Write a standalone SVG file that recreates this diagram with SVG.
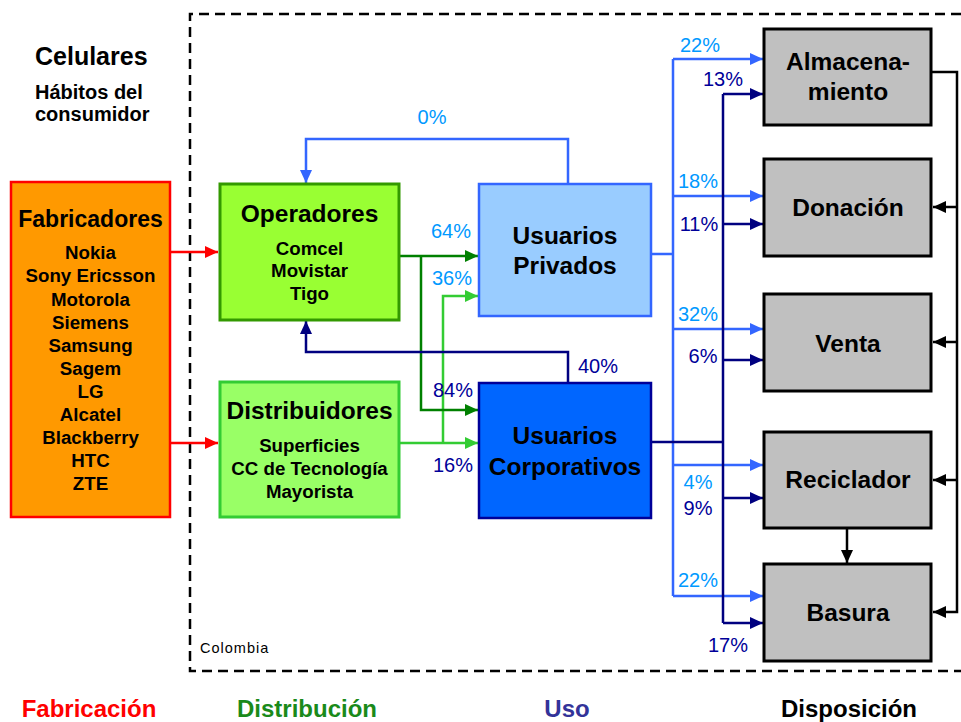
<svg xmlns="http://www.w3.org/2000/svg" width="961" height="722" viewBox="0 0 961 722">
<style>
text{font-family:"Liberation Sans",Arial,sans-serif;font-weight:bold;text-anchor:middle;fill:#000}
.t24{font-size:24.5px}
.t19{font-size:18.7px}
.pct{font-size:20px;font-weight:normal}
.lb{fill:#0099FF}
.nv{fill:#000099}
.ln{fill:none;stroke-width:2.5}
</style>
<defs>
<marker id="aR" viewBox="0 0 13 12" refX="13" refY="6" markerWidth="13" markerHeight="12" markerUnits="userSpaceOnUse" orient="auto"><path d="M0,0L13,6L0,12z" fill="#FF0000"/></marker>
<marker id="aDG" viewBox="0 0 13 12" refX="13" refY="6" markerWidth="13" markerHeight="12" markerUnits="userSpaceOnUse" orient="auto"><path d="M0,0L13,6L0,12z" fill="#008000"/></marker>
<marker id="aLG" viewBox="0 0 13 12" refX="13" refY="6" markerWidth="13" markerHeight="12" markerUnits="userSpaceOnUse" orient="auto"><path d="M0,0L13,6L0,12z" fill="#33CC33"/></marker>
<marker id="aB" viewBox="0 0 13 12" refX="13" refY="6" markerWidth="13" markerHeight="12" markerUnits="userSpaceOnUse" orient="auto"><path d="M0,0L13,6L0,12z" fill="#3366FF"/></marker>
<marker id="aN" viewBox="0 0 13 12" refX="13" refY="6" markerWidth="13" markerHeight="12" markerUnits="userSpaceOnUse" orient="auto"><path d="M0,0L13,6L0,12z" fill="#000080"/></marker>
<marker id="aK" viewBox="0 0 13 12" refX="13" refY="6" markerWidth="13" markerHeight="12" markerUnits="userSpaceOnUse" orient="auto"><path d="M0,0L13,6L0,12z" fill="#000"/></marker>
</defs>
<rect width="961" height="722" fill="#fff"/>

<g id="frame">
<path d="M961,14H190V671H961" fill="none" stroke="#000" stroke-width="2.5" stroke-dasharray="10,6"/>
<text x="200" y="653" style="font-size:14.5px;font-weight:normal;text-anchor:start;letter-spacing:1px">Colombia</text>
</g>

<g id="title">
<text x="35" y="65" style="font-size:25px;text-anchor:start">Celulares</text>
<text x="35" y="99" style="font-size:20px;text-anchor:start">Hábitos del</text>
<text x="35" y="121" style="font-size:20px;text-anchor:start">consumidor</text>
</g>

<g id="connectors">
<path class="ln" stroke="#FF0000" d="M170,252H218" marker-end="url(#aR)"/>
<path class="ln" stroke="#FF0000" d="M170,443H218" marker-end="url(#aR)"/>
<path class="ln" stroke="#33CC33" d="M399,443H478" marker-end="url(#aLG)"/>
<path class="ln" stroke="#33CC33" d="M443,443V296H478" marker-end="url(#aLG)"/>
<path class="ln" stroke="#008000" d="M399,256H478" marker-end="url(#aDG)"/>
<path class="ln" stroke="#008000" d="M421,256V410H478" marker-end="url(#aDG)"/>
<path class="ln" stroke="#3366FF" d="M568,184V139H306V183" marker-end="url(#aB)"/>
<path class="ln" stroke="#000080" d="M568,383V352H306V321" marker-end="url(#aN)"/>
<path class="ln" stroke="#3366FF" d="M651,254H673M673,59V596"/>
<path class="ln" stroke="#3366FF" d="M673,59H763" marker-end="url(#aB)"/>
<path class="ln" stroke="#3366FF" d="M673,196H763" marker-end="url(#aB)"/>
<path class="ln" stroke="#3366FF" d="M673,329H763" marker-end="url(#aB)"/>
<path class="ln" stroke="#3366FF" d="M673,465H763" marker-end="url(#aB)"/>
<path class="ln" stroke="#3366FF" d="M673,596H763" marker-end="url(#aB)"/>
<path class="ln" stroke="#000080" d="M651,442H723M723,94V623"/>
<path class="ln" stroke="#000080" d="M723,94H763" marker-end="url(#aN)"/>
<path class="ln" stroke="#000080" d="M723,224H763" marker-end="url(#aN)"/>
<path class="ln" stroke="#000080" d="M723,360H763" marker-end="url(#aN)"/>
<path class="ln" stroke="#000080" d="M723,498H763" marker-end="url(#aN)"/>
<path class="ln" stroke="#000080" d="M723,623H763" marker-end="url(#aN)"/>
<path class="ln" stroke="#000" d="M931,72H957V612H933" marker-end="url(#aK)"/>
<path class="ln" stroke="#000" d="M957,207H933" marker-end="url(#aK)"/>
<path class="ln" stroke="#000" d="M957,342H933" marker-end="url(#aK)"/>
<path class="ln" stroke="#000" d="M957,480H933" marker-end="url(#aK)"/>
<path class="ln" stroke="#000" d="M847,528V563" marker-end="url(#aK)"/>
</g>

<g id="labels">
<text class="pct lb" x="432" y="124">0%</text>
<text class="pct nv" x="598" y="373">40%</text>
<text class="pct lb" x="451" y="238">64%</text>
<text class="pct lb" x="452" y="285">36%</text>
<text class="pct nv" x="453" y="397">84%</text>
<text class="pct nv" x="453" y="472">16%</text>
<text class="pct lb" x="700" y="52">22%</text>
<text class="pct nv" x="723" y="86">13%</text>
<text class="pct lb" x="698" y="188">18%</text>
<text class="pct nv" x="699" y="231">11%</text>
<text class="pct lb" x="698" y="321">32%</text>
<text class="pct nv" x="703" y="363">6%</text>
<text class="pct lb" x="698" y="489">4%</text>
<text class="pct nv" x="698" y="515">9%</text>
<text class="pct lb" x="698" y="587">22%</text>
<text class="pct nv" x="728" y="652">17%</text>
</g>

<g id="fabricadores">
<rect x="11" y="182" width="159" height="335" fill="#FF9900" stroke="#FF0000" stroke-width="2.5"/>
<text x="90.5" y="227" style="font-size:23px">Fabricadores</text>
<text class="t19" x="90.5" y="259">Nokia</text>
<text class="t19" x="90.5" y="282">Sony Ericsson</text>
<text class="t19" x="90.5" y="306">Motorola</text>
<text class="t19" x="90.5" y="329">Siemens</text>
<text class="t19" x="90.5" y="352">Samsung</text>
<text class="t19" x="90.5" y="375">Sagem</text>
<text class="t19" x="90.5" y="398">LG</text>
<text class="t19" x="90.5" y="421">Alcatel</text>
<text class="t19" x="90.5" y="444">Blackberry</text>
<text class="t19" x="90.5" y="467">HTC</text>
<text class="t19" x="90.5" y="490">ZTE</text>
</g>

<g id="operadores">
<rect x="220" y="184" width="179" height="136" fill="#99FF33" stroke="#339900" stroke-width="3"/>
<text class="t24" x="309.5" y="222">Operadores</text>
<text class="t19" x="309.5" y="255">Comcel</text>
<text class="t19" x="309.5" y="277">Movistar</text>
<text class="t19" x="309.5" y="300">Tigo</text>
</g>

<g id="distribuidores">
<rect x="220" y="382" width="179" height="135" fill="#99FF66" stroke="#33CC33" stroke-width="3"/>
<text class="t24" x="309.5" y="419">Distribuidores</text>
<text class="t19" x="309.5" y="452">Superficies</text>
<text class="t19" x="309.5" y="475">CC de Tecnología</text>
<text class="t19" x="309.5" y="498">Mayorista</text>
</g>

<g id="privados">
<rect x="479" y="184" width="172" height="132" fill="#99CCFF" stroke="#3366FF" stroke-width="2.5"/>
<text class="t24" x="565" y="244">Usuarios</text>
<text class="t24" x="565" y="274">Privados</text>
</g>

<g id="corporativos">
<rect x="479" y="383" width="172" height="135" fill="#0066FF" stroke="#000099" stroke-width="2.5"/>
<text class="t24" x="565" y="444">Usuarios</text>
<text class="t24" x="565" y="475">Corporativos</text>
</g>

<g id="almacenamiento">
<rect x="764" y="29" width="167" height="96" fill="#C0C0C0" stroke="#000" stroke-width="3"/>
<text class="t24" x="848" y="70">Almacena-</text>
<text class="t24" x="848" y="100">miento</text>
</g>
<g id="donacion">
<rect x="764" y="159" width="167" height="97" fill="#C0C0C0" stroke="#000" stroke-width="3"/>
<text class="t24" x="848" y="216">Donación</text>
</g>
<g id="venta">
<rect x="764" y="294" width="167" height="97" fill="#C0C0C0" stroke="#000" stroke-width="3"/>
<text class="t24" x="848" y="352">Venta</text>
</g>
<g id="reciclador">
<rect x="764" y="432" width="167" height="96" fill="#C0C0C0" stroke="#000" stroke-width="3"/>
<text class="t24" x="848" y="488">Reciclador</text>
</g>
<g id="basura">
<rect x="764" y="564" width="167" height="97" fill="#C0C0C0" stroke="#000" stroke-width="3"/>
<text class="t24" x="848" y="621">Basura</text>
</g>

<g id="stages">
<text x="89" y="717" style="font-size:24px;fill:#FF0000">Fabricación</text>
<text x="307" y="717" style="font-size:24px;fill:#1A8A1A">Distribución</text>
<text x="567" y="717" style="font-size:24px;fill:#333399">Uso</text>
<text x="849" y="717" style="font-size:24px">Disposición</text>
</g>
</svg>
